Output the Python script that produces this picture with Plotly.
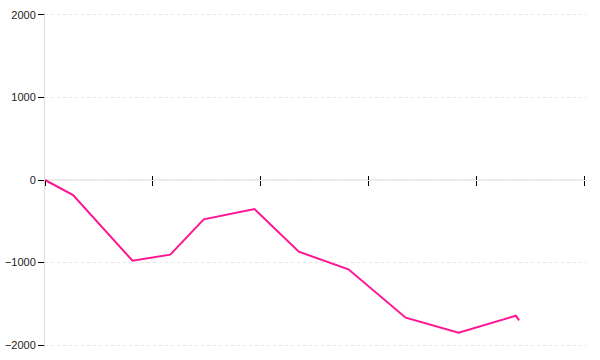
import plotly.graph_objects as go

x_vals = [0, 2.6, 8.1, 11.6, 14.7, 19.4, 23.5, 28.1, 33.4, 38.3, 43.6, 43.9]
y_vals = [0, -182, -978, -905, -477, -352, -869, -1083, -1669, -1851, -1645, -1701]
y_ticks = [-2000, -1000, 0, 1000, 2000]
x_ticks = [0, 10, 20, 30, 40, 50]

fig = go.Figure()
fig.add_trace(go.Scatter(x=x_vals, y=y_vals, mode="lines",
                         line=dict(color="#ff1493", width=2), showlegend=False))
fig.add_trace(go.Scatter(x=[x_vals[0]], y=[y_vals[0]], mode="lines", xaxis="x2",
                         showlegend=False, hoverinfo="skip", line=dict(width=0)))

fig.update_layout(
    width=600, height=360,
    margin=dict(l=45, r=13, t=13, b=13, autoexpand=False),
    paper_bgcolor="white", plot_bgcolor="white",
    font=dict(family="Liberation Sans", size=11, color="#222"),
    xaxis=dict(range=[0, 50.19], tickvals=x_ticks, showgrid=False, zeroline=False,
               showline=False,
               ticks="outside", ticklen=5, tickcolor="black", tickwidth=1,
               showticklabels=False, anchor="free", position=0.5, automargin=False),
    xaxis2=dict(range=[0, 50.19], tickvals=x_ticks, showgrid=False, zeroline=False,
                showline=False, overlaying="x", side="bottom",
                ticks="inside", ticklen=4, tickcolor="black", tickwidth=1,
                showticklabels=False, anchor="free", position=0.5, automargin=False),
    yaxis=dict(range=[-2024, 2024], tickvals=y_ticks, showgrid=True,
               gridcolor="#e6e6e6", griddash="dot", gridwidth=1,
               zeroline=False, showline=True, linecolor="#dddddd", linewidth=1,
               ticks="outside", ticklen=6, tickcolor="black", tickwidth=1,
               automargin=False,
               tickfont=dict(family="Liberation Sans", size=11, color="#222")),
    shapes=[dict(type="line", xref="x", yref="y", x0=0, x1=50, y0=0, y1=0,
                 line=dict(color="#dddddd", width=1), layer="below")],
)
fig.write_html("out.html")
